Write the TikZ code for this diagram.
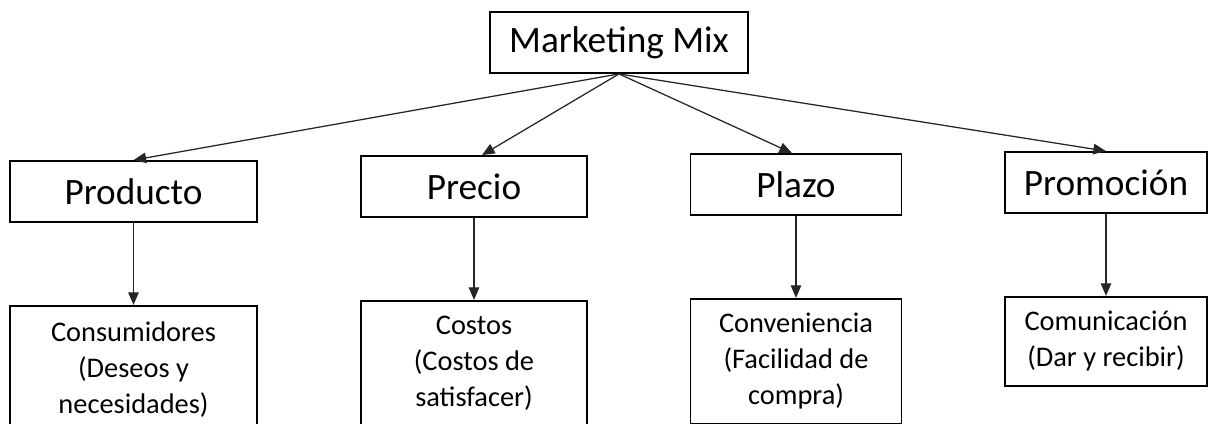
\documentclass[tikz,border=0pt]{standalone}
\usepackage{fontspec}
\setmainfont{Carlito}
\usetikzlibrary{arrows.meta, positioning}
\tikzset{
  % Box styles
  mixbox/.style={rectangle, draw=black, line width=1.3pt, text centered, minimum height=1.525cm, font=\fontsize{26.5}{32}\selectfont},
  detail/.style={rectangle, draw=black, line width=1.3pt, align=center, font=\fontsize{20.2}{25.6}\selectfont},
  arrow/.style={-{Triangle[length=9pt, width=7.5pt]}, line width=0.9pt, black!85},
}

\begin{document}
\begin{tikzpicture}[node distance=2.05cm]
    \useasboundingbox (0,0) rectangle (30.25,-10.6);

    % Marketing Mix
    \node[mixbox, minimum width=6.45cm] (mix) at (15.475,-1.0625) {Marketing Mix};

    % Las 4 P
    \node[mixbox, minimum width=6.175cm] (prod) at (3.3375,-4.7875) {Producto};
    \node[mixbox, minimum width=5.65cm] (prec) at (11.85,-4.6625) {Precio};
    \node[mixbox, minimum width=5.275cm] (plaz) at (19.9,-4.6125) {Plazo};
    \node[mixbox, minimum width=5.05cm] (prom) at (27.65,-4.5625) {Promoción};

    % Las 4 C
    \node[detail, below=of prod, minimum width=6.175cm, minimum height=3.2cm] (cons) {Consumidores\\(Deseos y\\necesidades)};
    \node[detail, below=of prec, minimum width=5.65cm, minimum height=3.125cm] (cost) {Costos\\(Costos de\\satisfacer)};
    \node[detail, below=of plaz, minimum width=5.275cm, minimum height=3.125cm] (conv) {Conveniencia\\(Facilidad de\\compra)};
    \node[detail, below=of prom, minimum width=5.05cm, minimum height=2.225cm] (comu) {Comunicación\\(Dar y recibir)};

    % Arrows
    \draw[arrow] (mix.south) -- (prod.north);
    \draw[arrow] (mix.south) -- ([xshift=0.2cm]prec.north);
    \draw[arrow] (mix.south) -- ([xshift=-0.1cm]plaz.north);
    \draw[arrow] (mix.south) -- (prom.north);
    \draw[arrow] (prod) -- (cons);
    \draw[arrow] (prec) -- (cost);
    \draw[arrow] (plaz) -- (conv);
    \draw[arrow] (prom) -- (comu);
\end{tikzpicture}
\end{document}
